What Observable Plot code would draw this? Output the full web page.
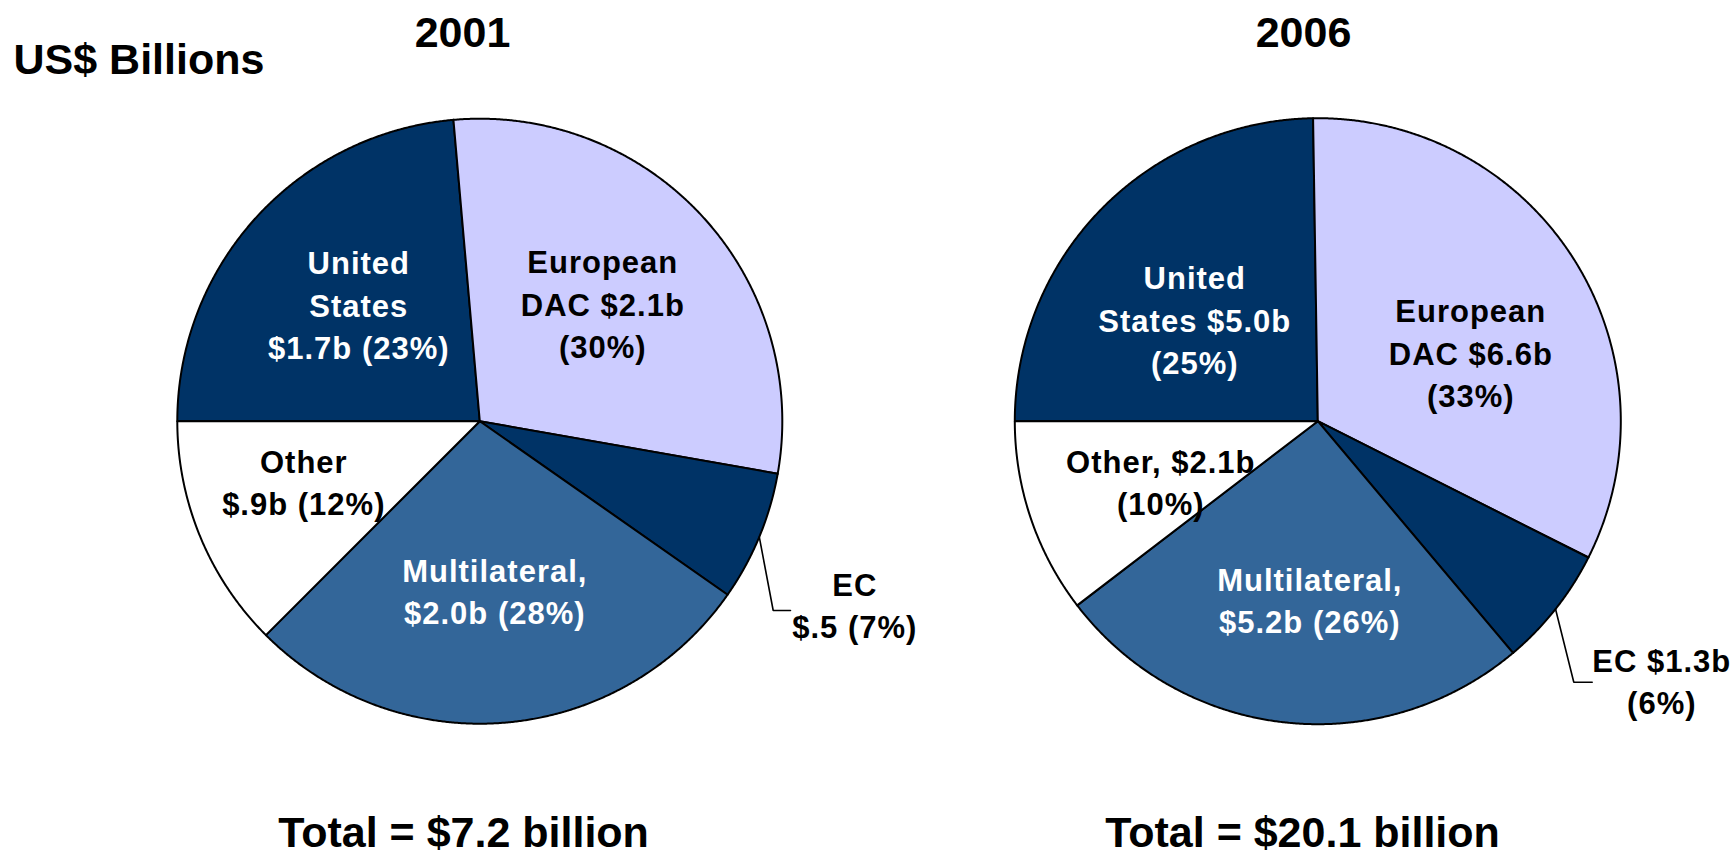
<!DOCTYPE html>
<html>
<head>
<meta charset="utf-8">
<script src="https://cdn.jsdelivr.net/npm/d3@7"></script>
<script src="https://cdn.jsdelivr.net/npm/@observablehq/plot@0.6"></script>
<style>
  html, body { margin: 0; padding: 0; background: #fff; }
  #chart svg { display: block; }
</style>
</head>
<body>
<div id="chart"></div>
<script>
// ---------------- DATA ----------------
const categories = ["United States", "European DAC", "EC", "Multilateral", "Other"];
const years = ["2001", "2006"];
const values2001 = [1.7, 2.1, 0.5, 2.0, 0.9];   // US$ billions
const values2006 = [5.0, 6.6, 1.3, 5.2, 2.1];   // US$ billions
const totals = [7.2, 20.1];
const labels2001 = ["United\nStates\n$1.7b (23%)", "European\nDAC $2.1b\n(30%)", "EC\n$.5 (7%)", "Multilateral,\n$2.0b (28%)", "Other\n$.9b (12%)"];
const labels2006 = ["United\nStates $5.0b\n(25%)", "European\nDAC $6.6b\n(33%)", "EC $1.3b\n(6%)", "Multilateral,\n$5.2b (26%)", "Other, $2.1b\n(10%)"];
const unitLabel = "US$ Billions";

// ---------------- LAYOUT / STYLE ----------------
const W = 1733, H = 853;
const sliceFills = ["#003366", "#CCCCFF", "#003366", "#336699", "#FFFFFF"];
const labelIsWhite = [true, false, false, true, false];
const pieLayout = [
  {cx: 479.3, cy: 420.7, r: 302.5, titleX: 462, totalX: 463},
  {cx: 1317.3, cy: 420.7, r: 303, titleX: 1303, totalX: 1302}
];
// label offsets (last-line baseline) relative to pie centre
const labelOffsets = [
  [[-121, -62], [123, -63], [375, 217], [15, 203], [-176, 94]],
  [[-123, -47], [153, -14], [344, 293], [-8, 212], [-157, 94]]
];
// leader line (EC) corner and end offsets relative to pie centre
const leaderOffsets = [
  [[293.4, 189.3], [310.7, 189.3]],
  [[256, 261], [274.4, 261]]
];
const startAngle = -Math.PI / 2;  // first slice (United States) begins at 9 o'clock

// ---------------- BUILD ROWS ----------------
const valueSets = [values2001, values2006];
const labelSets = [labels2001, labels2006];
const pie = d3.pie().sort(null).startAngle(startAngle).endAngle(startAngle + 2 * Math.PI);

const sliceRows = [], labelRows = [], leaderRows = [];
years.forEach((yr, yi) => {
  const L = pieLayout[yi];
  const arcs = pie(valueSets[yi]);
  arcs.forEach((a, i) => {
    const key = yr + "-" + categories[i];
    const pt = (ang) => ({x: L.cx + L.r * Math.sin(ang), y: L.cy - L.r * Math.cos(ang)});
    sliceRows.push({key, category: categories[i], x: L.cx, y: L.cy});
    const n = Math.max(2, Math.ceil((a.endAngle - a.startAngle) / (Math.PI / 720)));
    for (let k = 0; k <= n; k++) {
      const ang = a.startAngle + (a.endAngle - a.startAngle) * k / n;
      sliceRows.push({key, category: categories[i], ...pt(ang)});
    }
    sliceRows.push({key, category: categories[i], x: L.cx, y: L.cy});

    const [dx, dy] = labelOffsets[yi][i];
    labelRows.push({x: L.cx + dx, y: L.cy + dy, text: labelSets[yi][i], white: labelIsWhite[i]});

    if (categories[i] === "EC") {
      const mid = (a.startAngle + a.endAngle) / 2;
      leaderRows.push({year: yr, ...pt(mid)});
      leaderOffsets[yi].forEach(([ox, oy]) => leaderRows.push({year: yr, x: L.cx + ox, y: L.cy + oy}));
    }
  });
});

const titleRows = years.map((yr, yi) => ({x: pieLayout[yi].titleX, y: 46, text: yr}));
const totalRows = totals.map((t, yi) => ({x: pieLayout[yi].totalX, y: 846, text: `Total = $${t} billion`}));

// ---------------- PLOT ----------------
const chart = Plot.plot({
  width: W,
  height: H,
  margin: 0,
  x: {domain: [0, W], range: [0, W], axis: null},
  y: {domain: [0, H], range: [0, H], axis: null},
  color: {domain: categories, range: sliceFills},
  style: {fontFamily: "'Liberation Sans', Arial, Helvetica, sans-serif", background: "#fff", overflow: "visible"},
  marks: [
    Plot.line(sliceRows, {x: "x", y: "y", z: "key", fill: "category", stroke: "#000", strokeWidth: 2, strokeLinejoin: "round", strokeLinecap: "round"}),
    Plot.line(leaderRows, {x: "x", y: "y", z: "year", stroke: "#000", strokeWidth: 1.6, strokeLinejoin: "miter"}),
    Plot.text(labelRows.filter(d => d.white), {x: "x", y: "y", text: "text", fill: "#fff", fontSize: 31, fontWeight: "bold", lineAnchor: "bottom", lineHeight: 1.375, textAnchor: "middle"}),
    Plot.text(labelRows.filter(d => !d.white), {x: "x", y: "y", text: "text", fill: "#000", fontSize: 31, fontWeight: "bold", lineAnchor: "bottom", lineHeight: 1.375, textAnchor: "middle"}),
    Plot.text(titleRows, {x: "x", y: "y", text: "text", fill: "#000", fontSize: 43, fontWeight: "bold", lineAnchor: "bottom", textAnchor: "middle"}),
    Plot.text(totalRows, {x: "x", y: "y", text: "text", fill: "#000", fontSize: 43, fontWeight: "bold", lineAnchor: "bottom", textAnchor: "middle"}),
    Plot.text([unitLabel], {x: 13, y: 73, text: d => d, fill: "#000", fontSize: 43, fontWeight: "bold", lineAnchor: "bottom", textAnchor: "start"})
  ]
});
d3.select(chart).selectAll('g[font-size="31"]').attr("letter-spacing", "1px");
document.getElementById("chart").appendChild(chart);
</script>
</body>
</html>
